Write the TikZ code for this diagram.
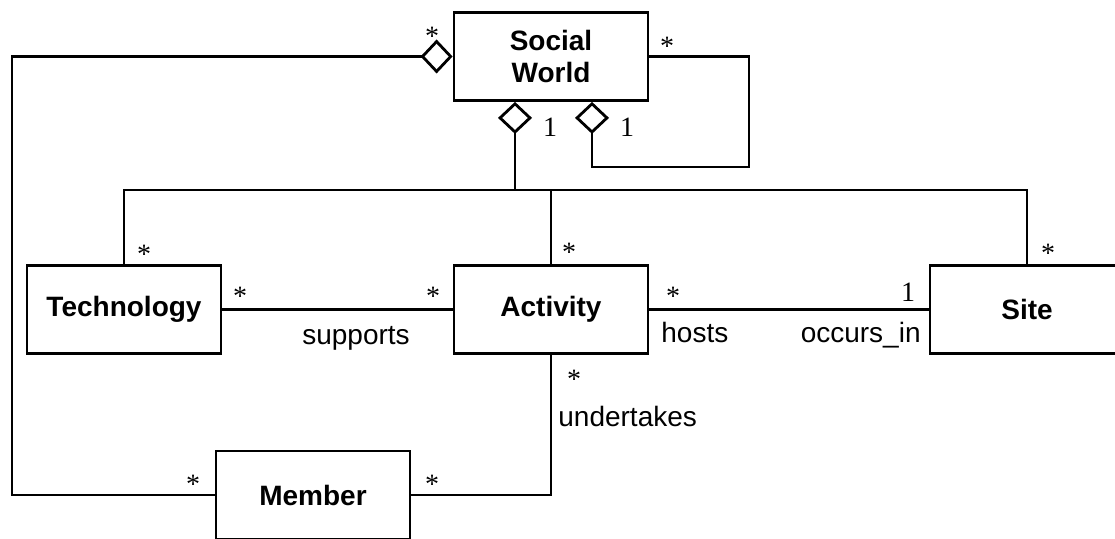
\documentclass[tikz,border=0pt]{standalone}
\usepackage{fontspec}
\setmainfont{Liberation Sans}
\newfontfamily\multfont{Liberation Serif}
\usetikzlibrary{arrows.meta,calc}

\begin{document}
\begin{tikzpicture}[
    x=0.5pt, y=-0.5pt,
    line width=1.4pt,
    every node/.style={font=\fontsize{14}{16}\selectfont},
    cls/.style={draw, fill=white, minimum width=97pt, minimum height=44pt,
        inner sep=0pt, align=center, font=\fontsize{14}{16}\selectfont\bfseries},
    mult/.style={anchor=base, inner sep=0pt, font=\fontsize{14}{16}\selectfont\multfont},
    role/.style={anchor=base, inner sep=0pt},
    agg/.style={{Diamond[open, length=16pt, width=17pt]}-},
    aggend/.style={-{Diamond[open, length=16pt, width=17pt]}}
]
\useasboundingbox (0,0) rectangle (1115,539);
\clip (0,0) rectangle (1115,539);

\node[cls] (sw) at (551,56.5) {Social\\World};
\node[cls] (tech) at (124,309.5) {Technology};
\node[cls] (act) at (551,309.5) {Activity};
\node[cls] (site) at (1027,309.5) {Site};
\node[cls] (mem) at (313,495) {Member};

\coordinate (lft) at (12,495);
\coordinate (loop) at (749,167);
\coordinate (bus) at (515,190);

\draw[agg] (sw.west) -| (lft) -- (mem.west);
\draw[aggend] (sw.east) -| (loop) -| ($(sw.south)+(41,0)$);
\draw[agg] ($(sw.south)+(-36,0)$) -- (bus);
\draw (tech.north) |- (bus) -| (site.north);
\draw (act.north) -- (act.north |- bus);

\draw (tech.east) -- (act.west);
\draw (act.east) -- (site.west);
\draw (act.south) |- (mem.east);

\node[mult] (swl) at (432,46) {*};
\node[mult] (swr) at (667,56) {*};
\node[mult] (swb1) at (550,137) {1};
\node[mult] (swb2) at (627,137) {1};
\node[mult] (techt) at (144,264) {*};
\node[mult] (techr) at (240,306) {*};
\node[mult] (actl) at (433,306) {*};
\node[mult] (actt) at (569,262) {*};
\node[mult] (actr) at (673,306) {*};
\node[mult] (sitel) at (908,302) {1};
\node[mult] (sitet) at (1048,263) {*};
\node[mult] (actb) at (574,389) {*};
\node[mult] (meml) at (193,494) {*};
\node[mult] (memr) at (432,494) {*};

\node[role] (supports) at (356,345) {supports};
\node[role, anchor=base west] (hosts) at (660,343) {hosts};
\node[role, anchor=base east] (occurs) at (922,343) {occurs\_in};
\node[role, anchor=base west] (undertakes) at (557,427) {undertakes};
\end{tikzpicture}
\end{document}
